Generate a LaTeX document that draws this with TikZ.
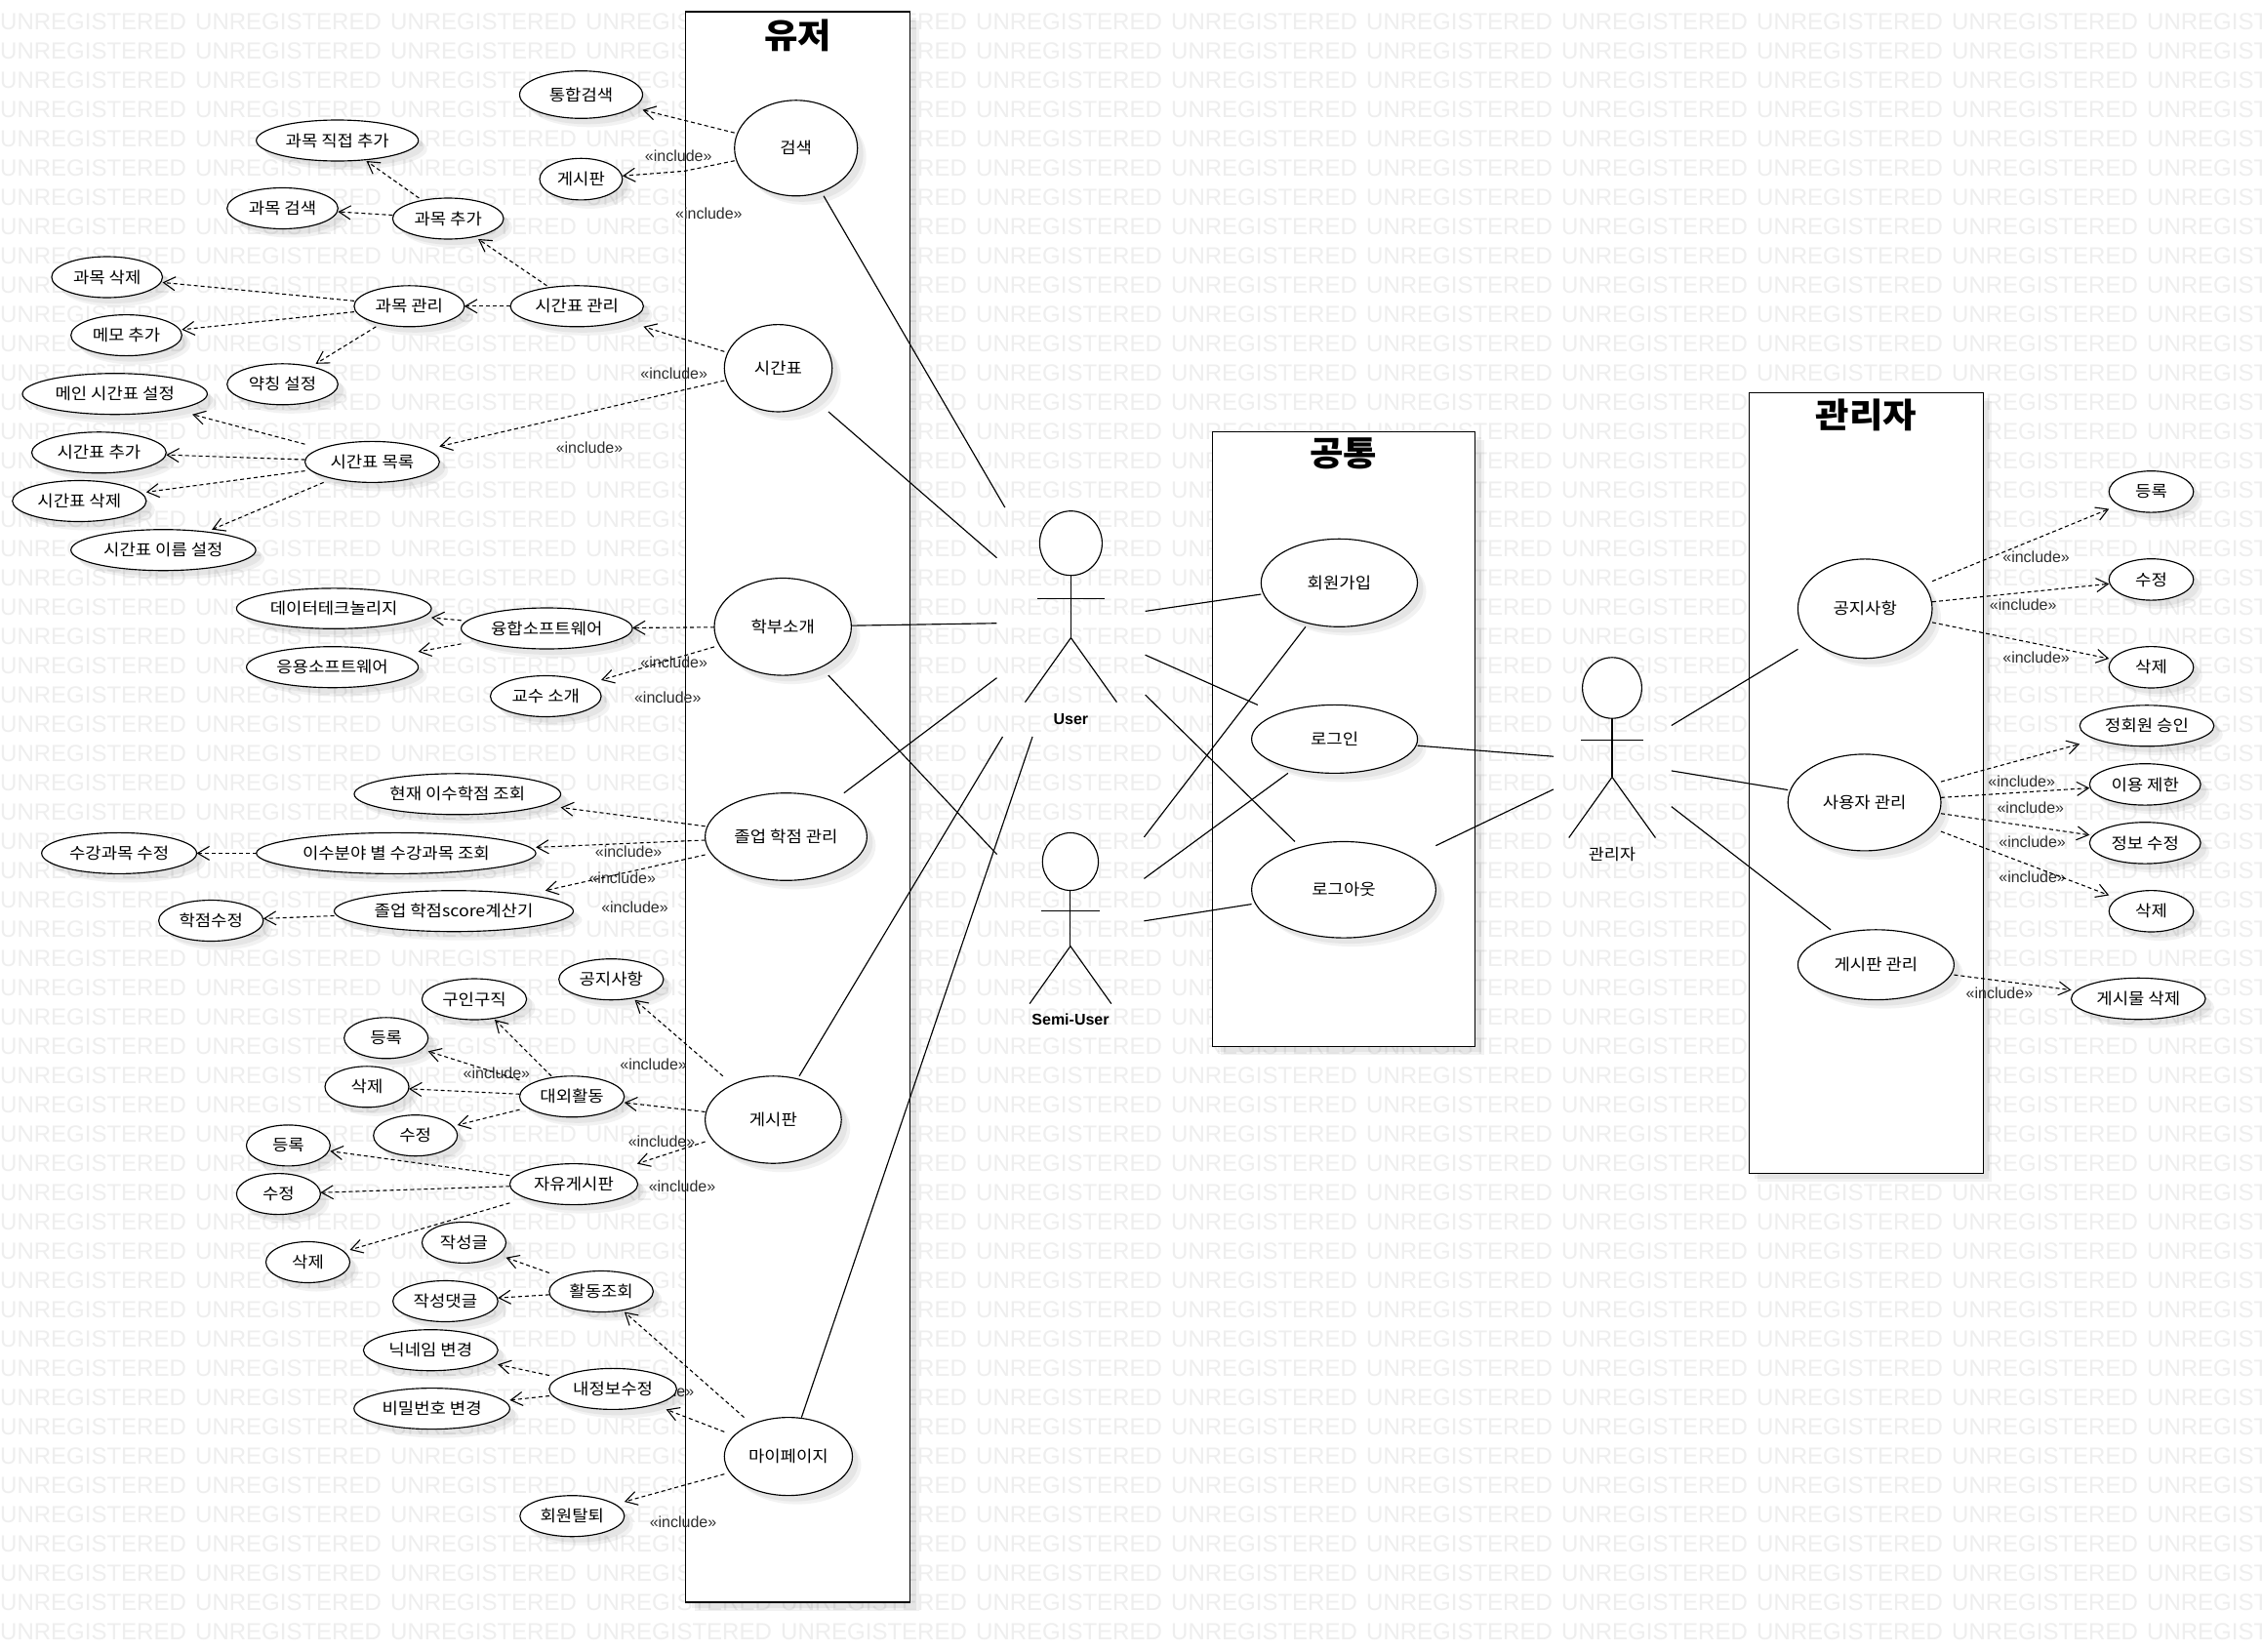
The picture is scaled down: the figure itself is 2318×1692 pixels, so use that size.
\documentclass[tikz,border=0pt]{standalone}
\usepackage{fontspec}
\setmainfont{Liberation Sans}
\newfontfamily\krfont[FakeStretch=1.09]{Noto Sans CJK KR}
\newfontfamily\krtitle[FakeStretch=1.07]{Noto Sans CJK KR}
\usetikzlibrary{shapes.geometric,shadows,arrows.meta}
\newcommand{\uc}[6]{%
  \node[usecase,minimum width={2*#4*1pt},minimum height={2*#5*1pt}] (#1t) at (#2,#3) {#6};
  \node[hitbox,minimum width={2*#4*1pt},minimum height={2*#5*1pt}] (#1) at (#2,#3) {};
}
\newcommand{\actorfig}[9]{% name, cx, headcy, rx, ry, neck-arm y, arm half, hip y, feet path
  \draw[actorline,fill=white] (#2,#3) ellipse [x radius=#4, y radius=#5];
  \draw[actorline] (#2,#3+#5) -- (#2,#8);
  \draw[actorline] (#2-#7,#6) -- (#2+#7,#6);
  \draw[actorline] #9;
}
\tikzset{
  usecase/.style={ellipse,draw=black,fill=white,line width=1.15pt,inner sep=0pt,outer sep=0pt,
    font=\fontsize{16.3}{18}\selectfont\krfont,text=black,
    drop shadow={shadow xshift=9pt,shadow yshift=-9pt,opacity=.05,fill=black},
    drop shadow={shadow xshift=6pt,shadow yshift=-6pt,opacity=.05,fill=black}},
  hitbox/.style={rectangle,draw=none,fill=none,inner sep=0pt,outer sep=0pt},
  sysbox/.style={rectangle,draw=black,fill=white,line width=1.3pt,inner sep=0pt,outer sep=0pt,anchor=north west,
    drop shadow={shadow xshift=9pt,shadow yshift=-9pt,opacity=.05,fill=black},
    drop shadow={shadow xshift=6pt,shadow yshift=-6pt,opacity=.05,fill=black}},
  boxtitle/.style={font=\fontsize{35}{37}\selectfont\krtitle\bfseries,text=black,inner sep=0pt},
  wmark/.style={font=\fontsize{24}{26}\selectfont,text=black!6.5,inner sep=0pt,anchor=west},
  inc/.style={font=\fontsize{16}{18}\selectfont,text=black!82,inner sep=0pt},
  incl/.style={-{Straight Barb[length=12pt,width=14pt,line width=1.1pt]},line width=1.1pt,dash pattern=on 4pt off 3pt},
  assoc/.style={line width=1.15pt},
  actorline/.style={line width=1.15pt},
  actorlab/.style={font=\fontsize{16}{18}\selectfont,inner sep=0pt},
}
\begin{document}
\begin{tikzpicture}[x=1pt,y=-1pt]
\path[use as bounding box,fill=white] (0,0) rectangle (2318,1692);
% watermark
\foreach \r in {0,...,55}{\foreach \c in {0,...,11}{
  \node[wmark] (wm\r-\c) at ({200*\c},{22+30*\r}) {UNREGISTERED};
}}
% system boxes
\node[sysbox,minimum width=230pt,minimum height=1630pt] (boxuser) at (702.5,12) {};
\node[sysbox,minimum width=269.5pt,minimum height=630pt] (boxcommon) at (1242.3,442.4) {};
\node[sysbox,minimum width=240pt,minimum height=800pt] (boxadmin) at (1792.4,402.3) {};
\node[boxtitle] (t1) at (817.6,36) {유저};
\node[boxtitle] (t2) at (1376.5,465) {공통};
\node[boxtitle] (t3) at (1912.3,425.5) {관리자};
% include labels
\foreach \n/\x/\y in {a/695.2/159.6,b/726.4/218.5,c/690.7/382.7,d/604/459.2,e/690.7/678.7,f/684.3/714.3,
  g/644.1/872.8,h/637.8/899.6,i/650.5/929.8,j/669.6/1090.5,k/508.9/1099.7,l/678/1169.7,m/699/1215.7,
  n/677/1425.8,o/700/1559.6,p/2086.6/570.6,q/2073.2/619.7,r/2086.6/674.2,s/2071.7/800.5,t/2080.8/827.3,
  u/2082.6/863,v/2082.6/898.3,w/2048.9/1017.5}{
  \node[inc] (lab\n) at (\x,\y) {«include»};
}
% use cases: user side
\uc{search}{815.7}{151.8}{63}{49}{검색}
\uc{allsearch}{595.5}{97}{63}{24.3}{통합검색}
\uc{boardA}{595.4}{183.6}{42.4}{21.3}{게시판}
\uc{direct}{345.7}{144}{83}{21}{과목 직접 추가}
\uc{csearch}{289.5}{213.5}{56.8}{21}{과목 검색}
\uc{cadd}{459.2}{224}{56.8}{21}{과목 추가}
\uc{cdel}{109.7}{284}{56.8}{21}{과목 삭제}
\uc{cman}{419.4}{313.8}{56.5}{21}{과목 관리}
\uc{ttman}{591.2}{313.8}{68.2}{21}{시간표 관리}
\uc{memo}{129.5}{343.6}{56.8}{21}{메모 추가}
\uc{abbr}{289.5}{393.8}{56.8}{21}{약칭 설정}
\uc{tt}{797.5}{377.3}{55.2}{44.7}{시간표}
\uc{ttmain}{117.7}{403.7}{94.7}{21}{메인 시간표 설정}
\uc{ttadd}{101.4}{463.8}{68.9}{21}{시간표 추가}
\uc{ttlist}{381.4}{473.4}{68.9}{21}{시간표 목록}
\uc{ttdel}{81.3}{513.5}{68.6}{21}{시간표 삭제}
\uc{ttname}{167.4}{563.7}{94.7}{21}{시간표 이름 설정}
\uc{dept}{802.2}{642.3}{70.2}{49.8}{학부소개}
\uc{data}{342.2}{623.6}{99.8}{20.7}{데이터테크놀리지}
\uc{conv}{560.3}{644}{87.7}{21}{융합소프트웨어}
\uc{app}{340.6}{683.7}{88}{21}{응용소프트웨어}
\uc{prof}{559.3}{713.5}{56.8}{21}{교수 소개}
\uc{cur}{468.8}{813.8}{105.8}{21}{현재 이수학점 조회}
\uc{grad}{805.5}{857.5}{82.9}{44.8}{졸업 학점 관리}
\uc{byfield}{405.9}{874.4}{143.2}{21}{이수분야 별 수강과목 조회}
\uc{coursefix}{122.1}{874.4}{79.4}{21}{수강과목 수정}
\uc{calc}{465}{933.7}{122.5}{21}{졸업 학점score계산기}
\uc{gradefix}{216.2}{943.5}{53.6}{21}{학점수정}
\uc{notice}{626.3}{1003.7}{53.6}{21}{공지사항}
\uc{jobs}{486}{1024}{53.6}{21}{구인구직}
\uc{regA}{395.7}{1063.8}{43}{21}{등록}
\uc{delA}{376}{1113.8}{43}{21}{삭제}
\uc{ext}{586.1}{1123.8}{53.6}{21}{대외활동}
\uc{fixA}{425.7}{1163.7}{43}{21}{수정}
\uc{boardB}{792.4}{1147.5}{69.8}{44.7}{게시판}
\uc{regB}{295.4}{1173.9}{42.9}{21}{등록}
\uc{fixB}{285.4}{1223.6}{43}{21}{수정}
\uc{free}{588}{1213.6}{65.6}{21}{자유게시판}
\uc{delB}{315.5}{1293.5}{43}{21}{삭제}
\uc{posts}{475.5}{1273.4}{43}{21}{작성글}
\uc{act}{616.1}{1323.5}{53.3}{21}{활동조회}
\uc{comments}{456.4}{1333.5}{53.8}{21}{작성댓글}
\uc{nick}{441.3}{1383.7}{68.9}{21}{닉네임 변경}
\uc{myinfo}{628.1}{1423.4}{65.3}{21}{내정보수정}
\uc{pw}{442.6}{1443.6}{79.8}{21}{비밀번호 변경}
\uc{mypage}{807.9}{1492.6}{65.6}{40}{마이페이지}
\uc{quit}{586.3}{1553.7}{53.5}{21}{회원탈퇴}
% common
\uc{join}{1372.4}{597.3}{80.1}{45}{회원가입}
\uc{login}{1367.6}{757.4}{85}{35}{로그인}
\uc{logout}{1377}{911.8}{94.4}{49.3}{로그아웃}
% admin
\uc{anotice}{1911.2}{623.8}{68.8}{50.9}{공지사항}
\uc{auser}{1910.6}{822.4}{78.4}{49.5}{사용자 관리}
\uc{aboard}{1922.4}{988.7}{80}{35.9}{게시판 관리}
\uc{rreg}{2204.5}{503.9}{43.3}{21.2}{등록}
\uc{rfix}{2204.5}{593.9}{43.3}{21.2}{수정}
\uc{rdel}{2204.5}{683.8}{43.3}{21.2}{삭제}
\uc{approve}{2200}{743.8}{68.8}{21}{정회원 승인}
\uc{limit}{2198.2}{803.9}{56.9}{21.2}{이용 제한}
\uc{edit}{2198.2}{863.9}{56.9}{21.2}{정보 수정}
\uc{sdel}{2204.5}{933.8}{43.3}{21.2}{삭제}
\uc{pdel}{2191.3}{1023.5}{68.8}{21.2}{게시물 삭제}
% actors: hit boxes for association ends
\node[hitbox,minimum width=152.1pt,minimum height=235pt] (user) at (1097.5,637.5) {};
\node[hitbox,minimum width=150.8pt,minimum height=204pt] (semi) at (1097,955.6) {};
\node[hitbox,minimum width=121pt,minimum height=212pt] (admin) at (1652.3,780) {};
\actorfig{user}{1097.4}{556.7}{32}{33}{613.8}{34.2}{653.6}{(1050.5,719.6) -- (1097.4,653.6) -- (1144.4,719.6)}
\actorfig{semi}{1096.9}{883}{28.6}{29.5}{933.9}{30.4}{969.6}{(1055.1,1028.6) -- (1096.9,969.6) -- (1138.8,1028.6)}
\actorfig{admin}{1652}{705}{30.4}{31.2}{758.5}{32}{796.4}{(1607.7,858.5) -- (1652,796.4) -- (1696.4,858.5)}
\node[actorlab,font=\fontsize{16}{18}\selectfont\bfseries] (userlab) at (1097.4,737) {User};
\node[actorlab,font=\fontsize{16}{18}\selectfont\bfseries] (semilab) at (1097,1045) {Semi-User};
\node[actorlab,font=\fontsize{16}{18}\selectfont\krfont] (adminlab) at (1652,875.4) {관리자};
% associations
\foreach \a/\b in {search/user,tt/user,dept/user,grad/user,boardB/user,mypage/user,join/user,login/user,logout/user,
  dept/semi,join/semi,login/semi,logout/semi,
  login/admin,logout/admin,anotice/admin,auser/admin,aboard/admin}{
  \draw[assoc] (\a) -- (\b);
}
% includes
\coordinate (bendA) at (701.5,175.3);
\draw[incl] (search) -- (bendA) -- (boardA);
\foreach \a/\b in {search/allsearch,cadd/direct,cadd/csearch,ttman/cadd,ttman/cman,cman/cdel,cman/memo,cman/abbr,
  tt/ttman,tt/ttlist,ttlist/ttmain,ttlist/ttadd,ttlist/ttdel,ttlist/ttname,dept/conv,dept/prof,conv/data,conv/app,
  grad/cur,grad/byfield,grad/calc,byfield/coursefix,calc/gradefix,boardB/notice,boardB/ext,boardB/free,
  ext/jobs,ext/regA,ext/delA,ext/fixA,free/regB,free/fixB,free/delB,mypage/act,mypage/myinfo,mypage/quit,
  act/posts,act/comments,myinfo/nick,myinfo/pw,anotice/rreg,anotice/rfix,anotice/rdel,
  auser/approve,auser/limit,auser/edit,auser/sdel,aboard/pdel}{
  \draw[incl] (\a) -- (\b);
}
\end{tikzpicture}
\end{document}
